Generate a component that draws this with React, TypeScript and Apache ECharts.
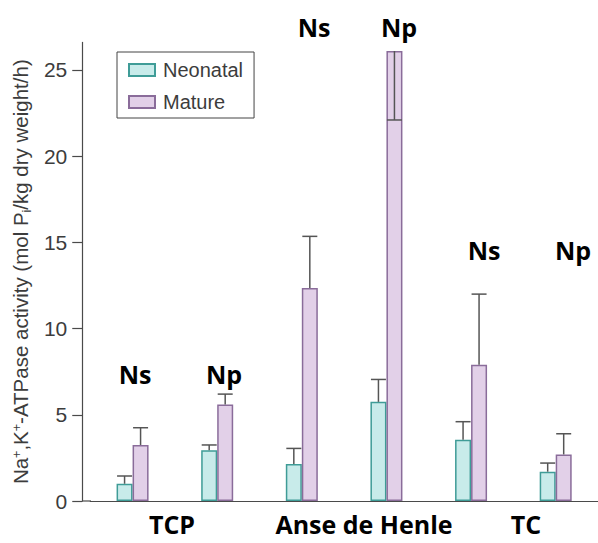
import React, { useEffect, useRef } from "react";
import * as echarts from "echarts";

// ---- data ----
const categories = ["TCP Ns", "TCP Np", "Henle Ns", "Henle Np", "TC Ns", "TC Np"];
const neonatal = [1.0, 2.95, 2.15, 5.75, 3.55, 1.7];
const neonatalErr = [1.45, 3.25, 3.05, 7.05, 4.6, 2.2];
const mature = [3.25, 5.6, 12.35, 26.1, 7.9, 2.7];
const matureErr = [4.25, 6.2, 15.35, 22.1, 12.0, 3.9];
const yTicks = [0, 5, 10, 15, 20, 25];
const groupTags = ["Ns", "Np", "Ns", "Np", "Ns", "Np"];
const regionLabels = ["TCP", "Anse de Henle", "TC"];

// ---- layout ----
const W = 598;
const H = 543;
const GRID_LEFT = 90;
const GRID_RIGHT = -8;
const GRID_TOP = 42.4;
const GRID_BOTTOM = 42;
const Y_MAX = 26.6;
const BAR_W = 16;
const tagPos = [
  [135, 374],
  [224, 374],
  [314, 27],
  [399, 27],
  [484, 250],
  [573, 250],
];
const regionPos = [
  [172, 524],
  [364, 524],
  [526, 524],
];

const NEO_FILL = "#c8ebea";
const NEO_BORDER = "#3f9c97";
const MAT_FILL = "#e2d0e8";
const MAT_BORDER = "#8a6c9a";
const AXIS = "#4a4a4a";
const TXT = "#3c3c3c";
const FONT = "'Liberation Sans', Arial, Helvetica, sans-serif";

function errSeries(values: number[], errs: number[], offset: number) {
  return {
    type: "custom",
    z: 5,
    data: values.map((v, i) => [i, v, errs[i]]),
    renderItem: (_params: any, api: any) => {
      const i = api.value(0);
      const p0 = api.coord([i, api.value(1)]);
      const p1 = api.coord([i, api.value(2)]);
      const x = p0[0] + offset;
      const half = BAR_W / 2 - 0.5;
      const style = { stroke: "#555", lineWidth: 1.5 };
      return {
        type: "group",
        children: [
          { type: "line", shape: { x1: x, y1: p0[1], x2: x, y2: p1[1] }, style },
          { type: "line", shape: { x1: x - half, y1: p1[1], x2: x + half, y2: p1[1] }, style },
        ],
      };
    },
  };
}

export default function App() {
  const ref = useRef<HTMLDivElement>(null);
  useEffect(() => {
    document.body.style.margin = "0";
    const chart = echarts.init(ref.current!, null, { renderer: "svg" });
    const boldFont = "'Open Sans', 'Noto Sans', sans-serif";
    chart.setOption({
      animation: false,
      backgroundColor: "#ffffff",
      grid: { left: GRID_LEFT, right: GRID_RIGHT, top: GRID_TOP, bottom: GRID_BOTTOM },
      legend: {
        orient: "vertical",
        left: 117,
        top: 52,
        data: ["Neonatal", "Mature"],
        icon: "rect",
        itemWidth: 26,
        itemHeight: 12,
        itemGap: 12,
        padding: [8, 11, 6, 11],
        borderColor: "#444",
        borderWidth: 1,
        textStyle: { fontSize: 20, color: TXT, fontFamily: FONT, padding: [0, 0, 0, 3] },
      },
      xAxis: {
        type: "category",
        data: categories,
        axisLine: { show: true, lineStyle: { color: AXIS, width: 1.2 } },
        axisTick: { show: false },
        axisLabel: { show: false },
        splitLine: { show: false },
      },
      yAxis: {
        type: "value",
        min: 0,
        max: Y_MAX,
        offset: 8,
        axisLine: { show: true, lineStyle: { color: AXIS, width: 1.2 } },
        axisTick: { show: true, length: 10, customValues: yTicks, lineStyle: { color: AXIS, width: 1.2 } },
        axisLabel: { customValues: yTicks, fontSize: 21, color: TXT, fontFamily: FONT, margin: 15 },
        splitLine: { show: false },
        name: "{n|Na}{s|+}{n|,K}{s|+}{n|-ATPase activity (mol P}{b|i}{n|/kg dry weight/h)}",
        nameLocation: "middle",
        nameGap: 48,
        nameTextStyle: {
          color: TXT,
          fontFamily: FONT,
          rich: {
            n: { fontSize: 20.5, color: TXT, fontFamily: FONT, lineHeight: 25, verticalAlign: "middle" },
            s: { fontSize: 12.5, color: TXT, fontFamily: FONT, lineHeight: 25, verticalAlign: "top", padding: [2, 0, 0, 0] },
            b: { fontSize: 12.5, color: TXT, fontFamily: FONT, lineHeight: 25, verticalAlign: "bottom" },
          },
        },
      },
      series: [
        {
          name: "Neonatal",
          type: "bar",
          data: neonatal,
          barWidth: BAR_W,
          barGap: "0%",
          itemStyle: { color: NEO_FILL, borderColor: NEO_BORDER, borderWidth: 1.5 },
        },
        {
          name: "Mature",
          type: "bar",
          data: mature,
          barWidth: BAR_W,
          barGap: "0%",
          itemStyle: { color: MAT_FILL, borderColor: MAT_BORDER, borderWidth: 1.5 },
        },
        errSeries(neonatal, neonatalErr, -BAR_W / 2),
        errSeries(mature, matureErr, BAR_W / 2),
      ],
      graphic: [
        {
          type: "line",
          shape: { x1: 82, y1: H - GRID_BOTTOM, x2: GRID_LEFT + 1, y2: H - GRID_BOTTOM },
          style: { stroke: AXIS, lineWidth: 1.2 },
        },
        ...groupTags.map((t, i) => ({
          type: "text",
          x: tagPos[i][0],
          y: tagPos[i][1],
          style: {
            text: t,
            fill: "#000",
            fontSize: 25,
            fontWeight: "bold",
            fontFamily: boldFont,
            align: "center",
            verticalAlign: "middle",
          },
        })),
        ...regionLabels.map((t, i) => ({
          type: "text",
          x: regionPos[i][0],
          y: regionPos[i][1],
          style: {
            text: t,
            fill: "#000",
            fontSize: 25,
            fontWeight: "bold",
            fontFamily: boldFont,
            align: "center",
            verticalAlign: "middle",
          },
        })),
      ],
    });
    return () => chart.dispose();
  }, []);
  return <div ref={ref} style={{ width: W, height: H }} />;
}
